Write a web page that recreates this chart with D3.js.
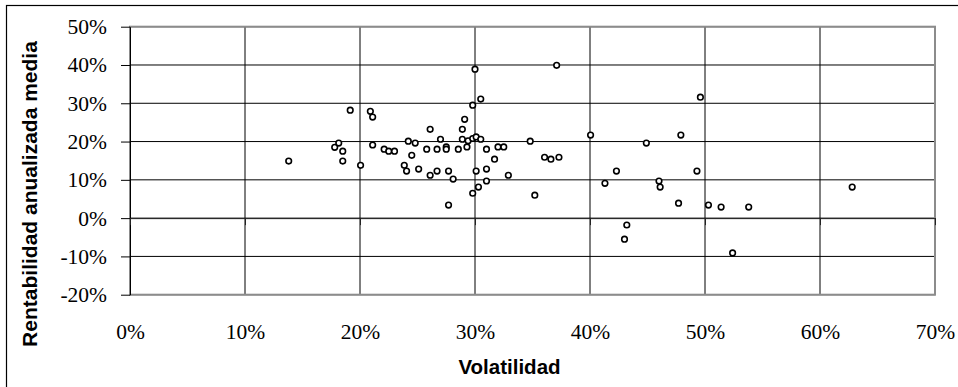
<!DOCTYPE html>
<html>
<head>
<meta charset="utf-8">
<script src="https://cdn.jsdelivr.net/npm/d3@7"></script>
<style>
  html, body { margin: 0; padding: 0; background: #fff; }
  svg { display: block; }
</style>
</head>
<body>
<svg id="chart" width="958" height="387"></svg>
<script>
// Volatility (%) of each asset
const volatilidad = [
  13.8, 17.8, 18.15, 18.5, 18.5, 19.15, 20.05, 20.9, 21.1, 21.1,
  22.1, 22.5, 23.0, 23.85, 24.05, 24.2, 24.5, 24.8, 25.1, 25.8,
  26.1, 26.1, 26.7, 26.7, 27.0, 27.5, 27.5, 27.7, 27.7, 28.1,
  28.55, 28.9, 28.9, 29.1, 29.3, 29.4, 29.8, 29.8, 29.8, 30.0,
  30.1, 30.1, 30.3, 30.5, 30.5, 31.0, 31.0, 31.0, 31.7, 32.0,
  32.5, 32.9, 34.8, 35.2, 36.05, 36.6, 37.1, 37.3, 40.05, 41.3,
  42.3, 43.0, 43.2, 44.9, 46.0, 46.1, 47.7, 47.9, 49.3, 49.6,
  50.3, 51.4, 52.4, 53.8, 62.8
];
// Mean annualised return (%) of each asset
const rentabilidad = [
  14.9, 18.5, 19.6, 17.5, 14.9, 28.2, 13.8, 27.9, 26.4, 19.1,
  18.0, 17.5, 17.5, 13.8, 12.3, 20.1, 16.4, 19.6, 12.8, 18.0,
  23.2, 11.2, 18.0, 12.3, 20.6, 18.6, 18.0, 12.3, 3.4, 10.2,
  18.0, 23.2, 20.6, 25.8, 18.6, 20.2, 29.5, 20.8, 6.5, 38.9,
  21.2, 12.3, 8.1, 31.1, 20.6, 18.0, 12.8, 9.7, 15.4, 18.6,
  18.6, 11.2, 20.1, 6.0, 15.9, 15.4, 39.9, 15.9, 21.7, 9.1,
  12.3, -5.5, -1.8, 19.6, 9.7, 8.1, 3.9, 21.7, 12.3, 31.6,
  3.4, 2.9, -9.1, 2.9, 8.1
];
const xTicks = [0, 10, 20, 30, 40, 50, 60, 70];
const yTicks = [-20, -10, 0, 10, 20, 30, 40, 50];
const xTitle = "Volatilidad";
const yTitle = "Rentabilidad anualizada media";

const svg = d3.select("#chart");
const L = 130, R = 935, T = 26.7, B = 294.7;
const x = d3.scaleLinear().domain([0, 70]).range([L, R]);
const y = d3.scaleLinear().domain([-20, 50]).range([B, T]);

// chart area border
svg.append("rect")
  .attr("x", 6.5).attr("y", 5.5).attr("width", 970).attr("height", 400)
  .attr("fill", "#fff").attr("stroke", "#000").attr("stroke-width", 1.2);

// gridlines
svg.append("g").selectAll("line").data(yTicks).join("line")
  .attr("x1", L).attr("x2", R).attr("y1", d => y(d)).attr("y2", d => y(d))
  .attr("stroke", "#000").attr("stroke-width", 1);
svg.append("g").selectAll("line").data(xTicks).join("line")
  .attr("x1", d => x(d)).attr("x2", d => x(d)).attr("y1", T).attr("y2", B)
  .attr("stroke", "#000").attr("stroke-width", 1);

// plot area border (gray)
svg.append("rect")
  .attr("x", L).attr("y", T).attr("width", R - L).attr("height", B - T)
  .attr("fill", "none").attr("stroke", "#8c8c8c").attr("stroke-width", 2);

// y axis
const yAxis = svg.append("g").attr("transform", `translate(${L},0)`)
  .call(d3.axisLeft(y).tickValues(yTicks).tickSize(9).tickSizeOuter(0).tickPadding(14)
    .tickFormat(d => d + "%"));
yAxis.attr("font-family", "Liberation Serif").attr("font-size", 21.5);
yAxis.selectAll("path,line").attr("stroke", "#000").attr("stroke-width", 1);
yAxis.selectAll("text").attr("font-family", "Liberation Serif").attr("font-size", 21.5).attr("fill", "#000");

// x axis at y=0
const xAxis = svg.append("g").attr("transform", `translate(0,${y(0)})`)
  .call(d3.axisBottom(x).tickValues(xTicks).tickSize(7).tickSizeOuter(0).tickPadding(99)
    .tickFormat(d => d + "%"));
xAxis.attr("font-family", "Liberation Serif").attr("font-size", 21.5);
xAxis.selectAll("path,line").attr("stroke", "#222").attr("stroke-width", 1);
xAxis.selectAll("text").attr("font-family", "Liberation Serif").attr("font-size", 21.5).attr("fill", "#000");

// points
svg.append("g").selectAll("circle").data(volatilidad.map((v, i) => [v, rentabilidad[i]])).join("circle")
  .attr("cx", d => x(d[0])).attr("cy", d => y(d[1])).attr("r", 2.8)
  .attr("fill", "#fff").attr("stroke", "#000").attr("stroke-width", 1.6);

// titles
svg.append("text").attr("x", (L + R) / 2 - 23).attr("y", 374)
  .attr("text-anchor", "middle").attr("font-family", "Liberation Sans").attr("font-weight", "bold")
  .attr("font-size", 20.5).text(xTitle);
svg.append("text").attr("transform", `translate(37,194) rotate(-90)`)
  .attr("text-anchor", "middle").attr("font-family", "Liberation Sans").attr("font-weight", "bold")
  .attr("font-size", 21).text(yTitle);
</script>
</body>
</html>
